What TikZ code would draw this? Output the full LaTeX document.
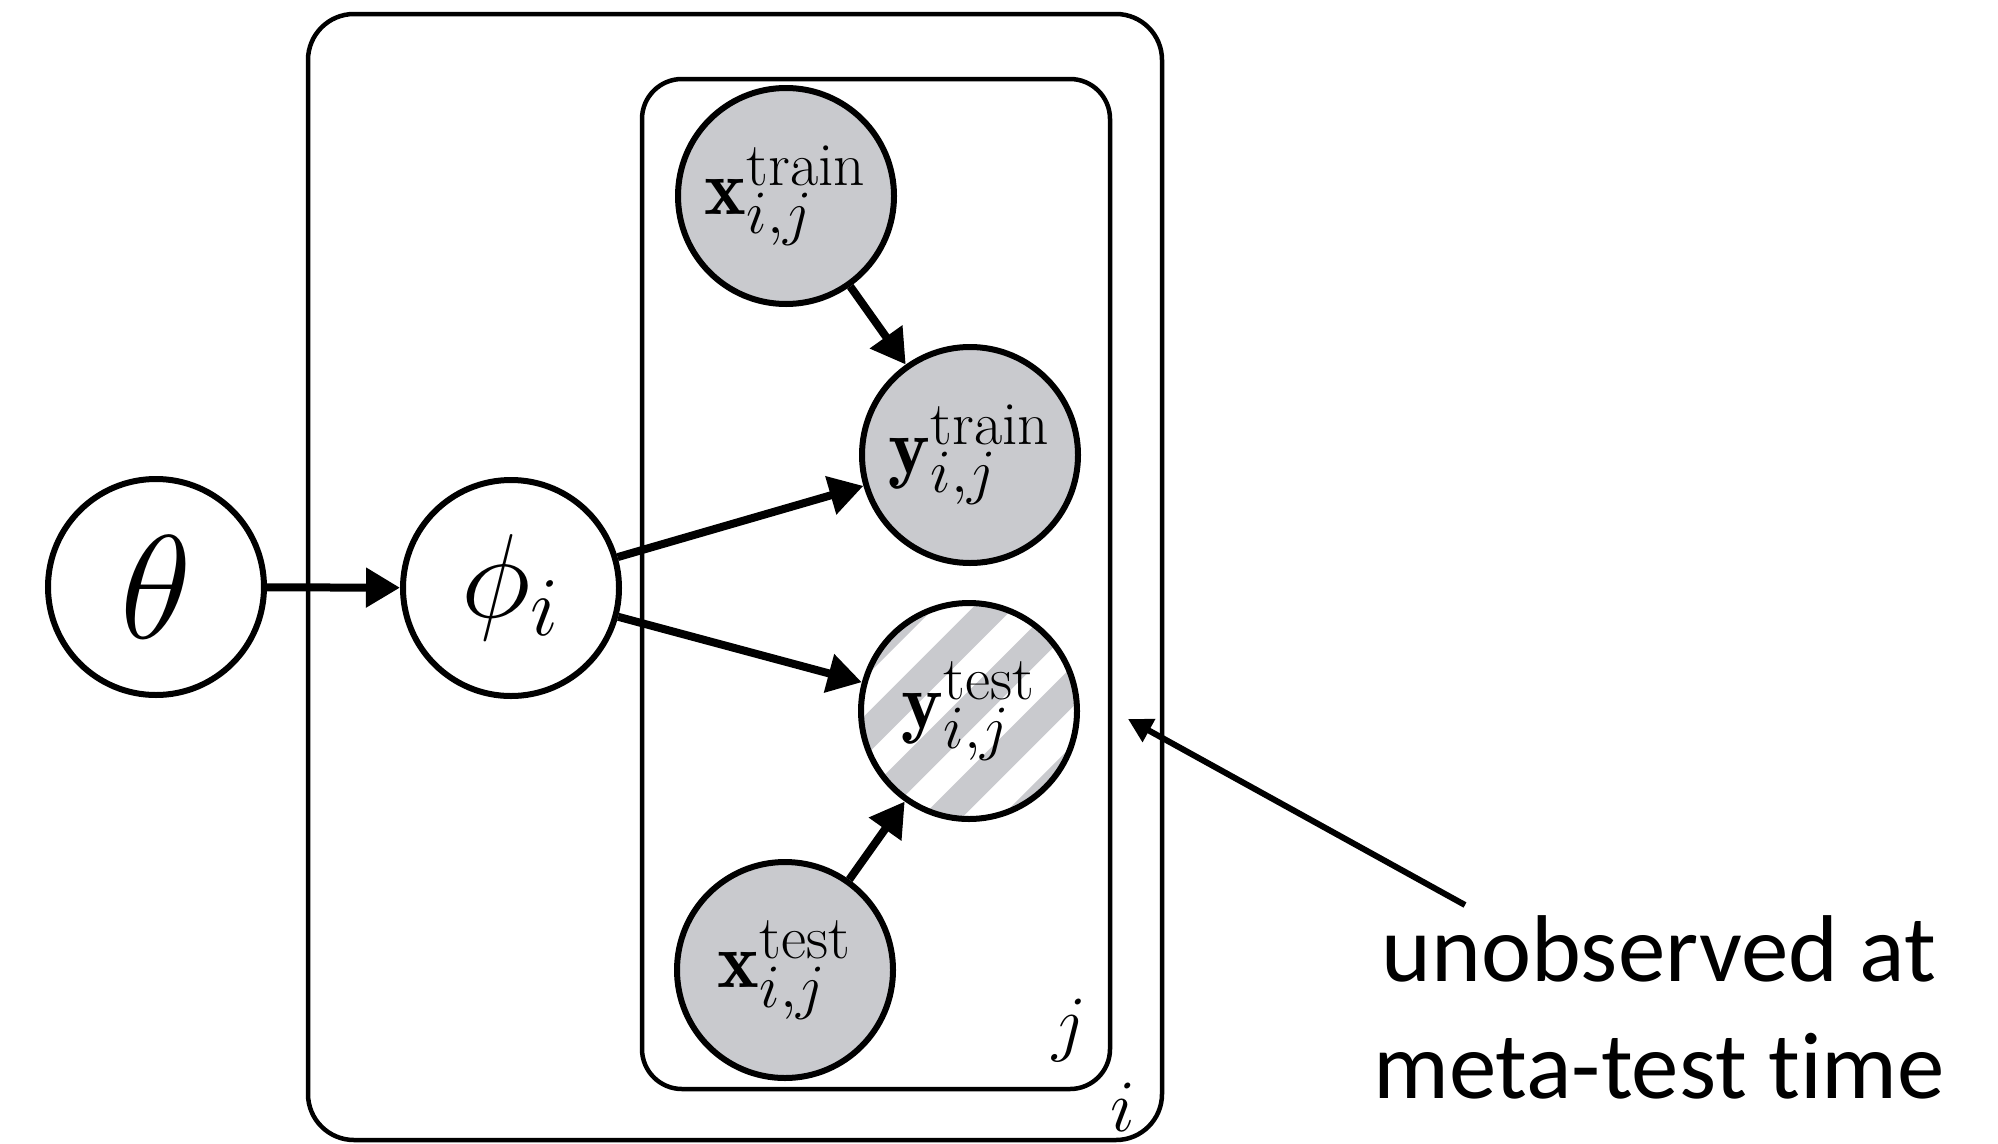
\RequirePackage{fix-cm}
\documentclass[tikz,border=0pt]{standalone}
\usepackage{fontspec}
\newfontfamily\calfont[Ligatures=NoCommon]{Carlito}
\DeclareMathSizes{22.5}{22.5}{17.5}{13}
\usetikzlibrary{arrows.meta}
\definecolor{obs}{RGB}{201,202,206}
\begin{document}
\begin{tikzpicture}[
  var/.style={circle, draw, line width=0.06cm, minimum size=2.16cm, inner sep=0pt, fill=white},
  obsvar/.style={var, fill=obs},
  small/.style={font=\fontsize{22.5}{26}\selectfont},
  plate/.style={draw, line width=0.045cm, rounded corners=#1},
  edge/.style={line width=0.08cm, -{Triangle[length=0.34cm,width=0.38cm]}},
  lbl/.style={inner sep=0pt, font=\fontsize{21}{24}\selectfont},
  note/.style={inner sep=0pt, anchor=base, font=\calfont\fontsize{27}{32}\selectfont},
  hatched/.style={var, path picture={
      \foreach \s in {-5,...,5}{
        \draw[obs, line width=0.29cm]
          ([xshift=\s*0.792cm-2cm, yshift=-2cm]path picture bounding box.center) -- ++(4cm,4cm);
      }}}
]
\useasboundingbox (0,0) rectangle (19.98,-11.43);

% plates
\draw[plate=0.46cm] (3.08,-0.14) rectangle (11.62,-11.40);
\draw[plate=0.40cm] (6.42,-0.79) rectangle (11.10,-10.89);

% nodes
\node[var, font=\fontsize{42}{46}\selectfont] (theta) at (1.56,-5.87) {$\theta$};
\node[var, font=\fontsize{34}{38}\selectfont] (phi) at (5.11,-5.88) {$\phi_i$};
\node[obsvar, small] (xtr) at (7.86,-1.96) {$\mathbf{x}^{\mathrm{train}}_{i,j}$};
\node[obsvar, small] (ytr) at (9.70,-4.55) {$\mathbf{y}^{\mathrm{train}}_{i,j}$};
\node[hatched, small] (yte) at (9.69,-7.11) {$\mathbf{y}^{\mathrm{test}}_{i,j}$};
\node[obsvar, small] (xte) at (7.85,-9.70) {$\mathbf{x}^{\mathrm{test}}_{i,j}$};

% plate labels
\node[lbl] (jl) at (10.70,-10.30) {$j$};
\node[lbl] (il) at (11.23,-11.07) {$i$};

% edges
\draw[edge] (theta) -- (phi);
\draw[edge] (phi) -- (ytr);
\draw[edge] (phi) -- (yte);
\draw[edge] (xtr) -- (ytr);
\draw[edge] (xte) -- (yte);

% annotation
\coordinate (tail) at (14.65,-9.05);
\coordinate (tip) at (11.28,-7.19);
\draw[line width=0.06cm, -{Triangle[length=0.24cm,width=0.25cm]}] (tail) -- (tip);
\node[note] (n1) at (16.59,-9.81) {unobserved at};
\node[note] (n2) at (16.59,-10.98) {meta-test time};
\end{tikzpicture}
\end{document}
